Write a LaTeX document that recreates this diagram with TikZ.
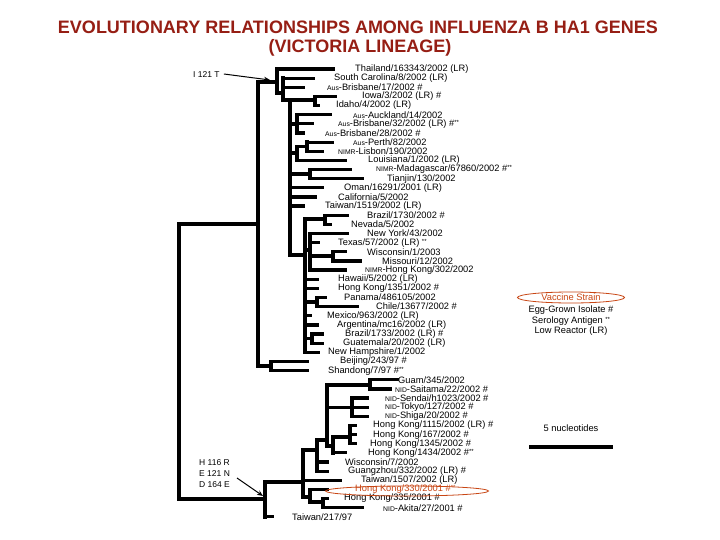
\documentclass[tikz,border=0pt]{standalone}
\usepackage{fontspec}
\setmainfont{Liberation Sans}
\usetikzlibrary{arrows.meta,shapes.geometric}
\definecolor{vacc}{RGB}{200,70,20}
\definecolor{titlecol}{RGB}{150,30,20}
\newcommand{\pfx}[1]{{\fontsize{6.8}{7}\selectfont #1}}
\newcommand{\sst}{\raisebox{2pt}{\fontsize{6}{6}\selectfont **}}
% leaf: index, parent, end x, label x, text
\newcommand{\leaf}[5]{%
  \coordinate (e#1) at (#3,{69+(#1-1)*9.14});
  \node[lab] (l#1) at (#4,{69+(#1-1)*9.14}) {#5};
  \draw[br] (#2 |- e#1) -- (e#1);
}
% inner node: name, x, top y, bottom y, attach y, parent
\newcommand{\inode}[6]{%
  \coordinate (#1t) at (#2,#3);
  \coordinate (#1b) at (#2,#4);
  \coordinate (#1) at (#2,#5);
  \draw[br] (#1t) -- (#1b);
  \draw[br] (#6 |- #1) -- (#1);
}
\begin{document}
\begin{tikzpicture}[x=1pt,y=-1pt,
  br/.style={line width=3.2pt,line cap=rect},
  lab/.style={anchor=west,inner sep=0pt,font=\fontsize{9.3}{10}\selectfont},
  ann/.style={anchor=west,inner sep=0pt,font=\fontsize{8.5}{10}\selectfont},
  leg/.style={inner sep=0pt,font=\fontsize{9.3}{10}\selectfont},
  arr/.style={line width=1pt,-{Stealth[length=6pt,width=5pt]}},
  ttl/.style={font=\bfseries\fontsize{18}{20}\selectfont,text=titlecol,inner sep=0pt}]
\fill[white] (0,0) rectangle (720,540);
\useasboundingbox (0,0) rectangle (720,540);

\node[ttl] (title1) at (358,27) {EVOLUTIONARY RELATIONSHIPS AMONG INFLUENZA B HA1 GENES};
\node[ttl] (title2) at (360,48) {(VICTORIA LINEAGE)};

% root
\coordinate (Rt) at (179,224);
\coordinate (Rb) at (179,499);
\draw[br] (Rt) -- (Rb);
\inode{A}{258}{82}{366}{224}{Rt}
\inode{M}{265}{482}{516.9}{499}{Rt}

% upper clade
\inode{B}{277}{69}{93}{82}{A}
\leaf{1}{B}{333}{355}{Thailand/163343/2002 (LR)}
\inode{C}{283}{78.1}{100}{93}{B}
\leaf{2}{C}{313}{334}{South Carolina/8/2002 (LR)}
\leaf{3}{C}{303}{327}{\pfx{Aus}-Brisbane/17/2002 \#}
\inode{G}{290}{100}{255}{100}{C}
\inode{IdI}{315}{96.4}{105.6}{100}{G}
\leaf{4}{IdI}{335}{362}{Iowa/3/2002 (LR) \#}
\leaf{5}{IdI}{318}{336}{Idaho/4/2002 (LR)}
\inode{T}{297}{114.7}{133}{124}{G}
\leaf{6}{T}{330}{353}{\pfx{Aus}-Auckland/14/2002}
\leaf{7}{T}{312}{338}{\pfx{Aus}-Brisbane/32/2002 (LR) \#\sst}
\leaf{8}{T}{303}{325}{\pfx{Aus}-Brisbane/28/2002 \#}
\inode{U}{297}{146.7}{160.4}{153}{G}
\inode{V}{307}{142.1}{151.3}{146.7}{U}
\leaf{9}{V}{332}{353}{\pfx{Aus}-Perth/82/2002}
\leaf{10}{V}{322}{338}{\pfx{NIMR}-Lisbon/190/2002}
\leaf{11}{U}{345}{368}{Louisiana/1/2002 (LR)}
\inode{W}{310}{169.5}{178.7}{174}{G}
\leaf{12}{W}{350}{376}{\pfx{NIMR}-Madagascar/67860/2002 \#\sst}
\leaf{13}{W}{362}{387}{Tianjin/130/2002}
\leaf{14}{G}{322}{344}{Oman/16291/2001 (LR)}
\leaf{15}{G}{315}{338}{California/5/2002}
\leaf{16}{G}{303}{325}{Taiwan/1519/2002 (LR)}
\inode{D}{305}{219}{352.3}{255}{G}
\inode{BN}{325}{215.2}{224.4}{219}{D}
\leaf{17}{BN}{347}{367}{Brazil/1730/2002 \#}
\leaf{18}{BN}{330}{351}{Nevada/5/2002}
\inode{E}{310}{233.5}{270.1}{250}{D}
\leaf{19}{E}{347}{367}{New York/43/2002}
\leaf{20}{E}{318}{338}{Texas/57/2002 (LR) \sst}
\inode{WM}{333}{251.8}{260.9}{256}{E}
\leaf{21}{WM}{345}{367}{Wisconsin/1/2003}
\leaf{22}{WM}{360}{382}{Missouri/12/2002}
\leaf{23}{E}{345}{365}{\pfx{NIMR}-Hong Kong/302/2002}
\leaf{24}{D}{317}{338}{Hawaii/5/2002 (LR)}
\leaf{25}{D}{317}{338}{Hong Kong/1351/2002 \#}
\inode{PC}{317}{297.5}{306.6}{302}{D}
\leaf{26}{PC}{325}{344}{Panama/486105/2002}
\leaf{27}{PC}{357}{376}{Chile/13677/2002 \#}
\leaf{28}{D}{310}{327}{Mexico/963/2002 (LR)}
\leaf{29}{D}{317}{337}{Argentina/mc16/2002 (LR)}
\inode{BG}{312}{334.1}{343.2}{338.6}{D}
\leaf{30}{BG}{322}{345}{Brazil/1733/2002 (LR) \#}
\leaf{31}{BG}{322}{343}{Guatemala/20/2002 (LR)}
\leaf{32}{D}{318}{328}{New Hampshire/1/2002}
\inode{BS}{271}{361.5}{370.6}{366}{A}
\leaf{33}{BS}{307}{340}{Beijing/243/97 \#}
\leaf{34}{BS}{307}{328}{Shandong/7/97 \#\sst}

% lower clade
\inode{N}{303}{450}{497}{482}{M}
\leaf{50}{M}{272}{292}{Taiwan/217/97}
\inode{K}{317}{440}{471.2}{450}{N}
\leaf{46}{N}{340}{361}{Taiwan/1507/2002 (LR)}
\inode{P}{310}{489.4}{502}{497}{N}
\leaf{47}{P}{327}{355}{\color{vacc}Hong Kong/330/2001 \#\sst}
\inode{Q}{323}{498.6}{507.7}{502}{P}
\leaf{48}{Q}{327}{344}{Hong Kong/335/2001 \#}
\leaf{49}{Q}{362}{383}{\pfx{NID}-Akita/27/2001 \#}
\inode{I}{327}{385}{446}{440}{K}
\leaf{44}{K}{327}{345}{Wisconsin/7/2002}
\leaf{45}{K}{327}{348}{Guangzhou/332/2002 (LR) \#}
\inode{H}{370}{379.8}{388.9}{385}{I}
\leaf{35}{H}{397}{398}{Guam/345/2002}
\leaf{36}{H}{390}{395}{\pfx{NID}-Saitama/22/2002 \#}
\inode{STS}{352}{398}{416.3}{407.2}{I}
\leaf{37}{STS}{367}{385}{\pfx{NID}-Sendai/h1023/2002 \#}
\leaf{38}{STS}{367}{385}{\pfx{NID}-Tokyo/127/2002 \#}
\leaf{39}{STS}{367}{385}{\pfx{NID}-Shiga/20/2002 \#}
\inode{L}{333}{437}{452.9}{446}{I}
\inode{R}{350}{425.5}{443.7}{437}{L}
\leaf{40}{R}{355}{373}{Hong Kong/1115/2002 (LR) \#}
\leaf{41}{R}{355}{373}{Hong Kong/167/2002 \#}
\leaf{42}{R}{355}{370}{Hong Kong/1345/2002 \#}
\leaf{43}{L}{345}{368}{Hong Kong/1434/2002 \#\sst}

% vaccine strain ellipse in tree
\node[ellipse,draw=vacc,line width=0.8pt,minimum width=163pt,minimum height=10pt,inner sep=0pt] (vacell) at (407,491) {};

% mutation annotations
\node[ann] (i121) at (193,75) {I 121 T};
\path (i121.east) ++(4,-1) coordinate (i121st);
\coordinate (i121tip) at (270,80);
\draw[arr] (i121st) -- (i121tip);
\node[ann] (h116) at (199,463) {H 116 R};
\node[ann] (e121) at (199,474) {E 121 N};
\node[ann] (d164) at (199,485) {D 164 E};
\coordinate (mutst) at (237,478);
\coordinate (muttip) at (263,496);
\draw[arr] (mutst) -- (muttip);

% legend
\node[leg,ellipse,draw=vacc,line width=0.8pt,minimum width=107pt,minimum height=11pt,text=vacc] (vs) at (571,297.5) {Vaccine Strain};
\node[leg] (egg) at (571,310) {Egg-Grown Isolate \#};
\node[leg] (sero) at (571,321) {Serology Antigen \sst};
\node[leg] (lowr) at (571,331) {Low Reactor (LR)};

% scale bar
\node[leg] (scl) at (571,428) {5 nucleotides};
\coordinate (sb1) at (529,447);
\coordinate (sb2) at (613,447);
\draw[br,line cap=butt] (sb1) -- (sb2);
\end{tikzpicture}
\end{document}
